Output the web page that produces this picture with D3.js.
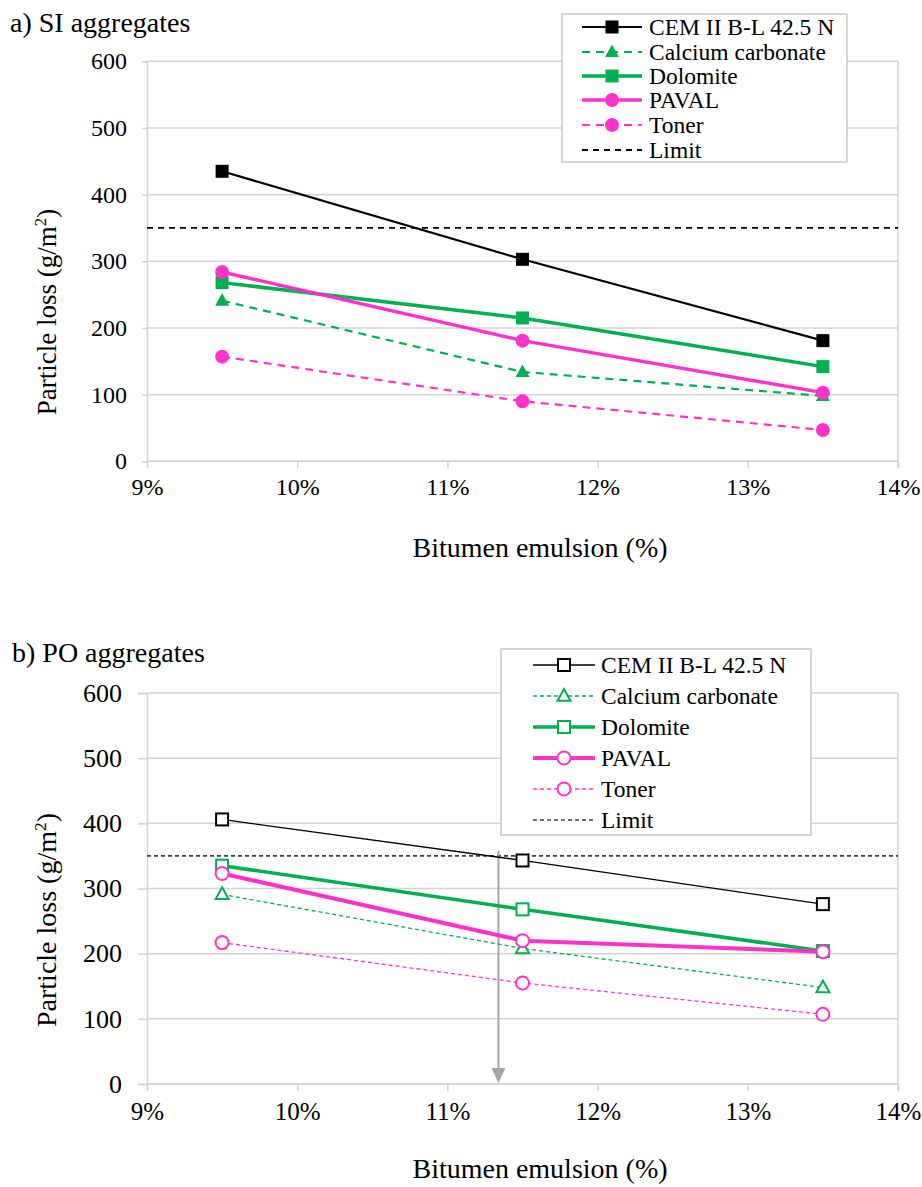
<!DOCTYPE html>
<html><head><meta charset="utf-8">
<script src="https://cdn.jsdelivr.net/npm/d3@7"></script>
<style>
html,body{margin:0;padding:0;background:#fff;}
svg text{font-family:"Liberation Serif","Times New Roman",serif;fill:#000;}
</style></head>
<body>
<svg id="chart" width="922" height="1187"></svg>
<script>
// ---- data ----
const xValues = [9.5, 11.5, 13.5];
const xTicks = [9, 10, 11, 12, 13, 14];
const yTicks = [0, 100, 200, 300, 400, 500, 600];
const seriesNames = ["CEM II B-L 42.5 N", "Calcium carbonate", "Dolomite", "PAVAL", "Toner"];
const limitValue = 350;
// a) SI aggregates
const siCEM = [435, 303, 181];
const siCalcium = [241, 134, 98];
const siDolomite = [268, 215, 142];
const siPAVAL = [284, 181, 103];
const siToner = [157, 90, 47];
// b) PO aggregates
const poCEM = [406, 343, 276];
const poCalcium = [291, 208, 148];
const poDolomite = [335, 268, 204];
const poPAVAL = [323, 220, 203];
const poToner = [217, 155, 107];
// arrow in b (x position in %, from value to value)
const arrowX = 11.34;
const arrowFrom = 358;
const arrowTo = 0;

const GREEN = "#00b050", PINK = "#ff33cc", GRID = "#d3d3d3";
const FONT = '"Liberation Serif","Times New Roman",serif';
const svg = d3.select("#chart");
const x = d3.scaleLinear().domain([9, 14]).range([147, 898]);

function fmtPct(d){ return d + "%"; }

function drawPanel(p) {
  const y = d3.scaleLinear().domain([0, 600]).range([p.y0, p.y1]);
  const g = svg.append("g");
  // grid lines
  g.selectAll(".grid").data(yTicks).join("line")
    .attr("x1", x(9)).attr("x2", x(14))
    .attr("y1", d => y(d)).attr("y2", d => y(d))
    .attr("stroke", GRID).attr("stroke-width", 1.5);
  // right border
  g.append("line").attr("x1", x(14)).attr("x2", x(14)).attr("y1", y(600)).attr("y2", y(0) + 7)
    .attr("stroke", GRID).attr("stroke-width", 1.5);
  // y axis
  const yAxis = d3.axisLeft(y).tickValues(yTicks).tickSize(p.yTickLen).tickPadding(p.yPad).tickFormat(d => d);
  const ya = g.append("g").attr("transform", `translate(${x(9)},0)`).call(yAxis);
  ya.select(".domain").attr("stroke", GRID).attr("stroke-width", 1.5);
  ya.selectAll(".tick line").attr("stroke", GRID).attr("stroke-width", 1.5);
  ya.selectAll(".tick text").style("font-size", p.yFont + "px").attr("fill", "#000")
    .style("font-family", FONT);
  // x axis
  const xAxis = d3.axisBottom(x).tickValues(xTicks).tickSize(7).tickPadding(p.xPad).tickFormat(fmtPct);
  const xa = g.append("g").attr("transform", `translate(0,${y(0)})`).call(xAxis);
  xa.select(".domain").attr("stroke", GRID).attr("stroke-width", 1.5).attr("d", `M${x(9)},0H${x(14)}`);
  xa.selectAll(".tick line").attr("stroke", GRID).attr("stroke-width", 1.5);
  xa.selectAll(".tick text").style("font-size", p.xFont + "px").attr("fill", "#000")
    .style("font-family", FONT);

  // limit line
  g.append("line").attr("x1", x(9)).attr("x2", x(14))
    .attr("y1", y(limitValue)).attr("y2", y(limitValue))
    .attr("stroke", p.limit.color).attr("stroke-width", p.limit.w).attr("stroke-dasharray", p.limit.dash);

  // arrow
  if (p.arrow) {
    g.append("line").attr("x1", x(arrowX)).attr("x2", x(arrowX))
      .attr("y1", y(arrowFrom)).attr("y2", y(arrowTo) - 12)
      .attr("stroke", "#a6a6a6").attr("stroke-width", 2);
    const ax = x(arrowX), ay = y(arrowTo) - 1;
    g.append("path").attr("d", `M${ax-7},${ay-15}L${ax+7},${ay-15}L${ax},${ay}Z`).attr("fill", "#a6a6a6");
  }

  const line = d3.line().x((d, i) => x(xValues[i])).y(d => y(d));
  p.series.forEach(s => {
    g.append("path").datum(s.values).attr("d", line).attr("fill", "none")
      .attr("stroke", s.color).attr("stroke-width", s.w).attr("stroke-dasharray", s.dash || null)
      .attr("stroke-linejoin", "round");
  });
  p.series.forEach(s => {
    s.values.forEach((v, i) => drawMarker(g, s, x(xValues[i]), y(v), p.open));
  });

  // title
  svg.append("text").attr("x", p.titleX).attr("y", p.titleY).style("font-size", "28px").text(p.title);
  // x title
  svg.append("text").attr("x", 540).attr("y", p.xTitleY).attr("text-anchor", "middle")
    .style("font-size", "28px").text("Bitumen emulsion (%)");
  // y title
  const yt = svg.append("text").attr("transform", `translate(${p.yTitleX},${p.yTitleY}) rotate(-90)`)
    .attr("text-anchor", "middle").style("font-size", p.yTitleFont + "px");
  yt.append("tspan").text("Particle loss (g/m");
  yt.append("tspan").attr("dy", -10).style("font-size", (p.yTitleFont * 0.62) + "px").text("2");
  yt.append("tspan").attr("dy", 10).text(")");

  // legend
  const L = p.legend;
  const lg = svg.append("g");
  lg.append("rect").attr("x", L.x).attr("y", L.y).attr("width", L.w).attr("height", L.h)
    .attr("fill", "#fff").attr("stroke", "#c8c8c8").attr("stroke-width", 1.5);
  const entries = p.series.map(s => s).concat([{name: "Limit", color: p.limit.color, w: p.limit.legW || p.limit.w, dash: p.limit.dash, marker: null}]);
  entries.forEach((s, i) => {
    const cy = L.rows[i];
    lg.append("line").attr("x1", L.lx1).attr("x2", L.lx2).attr("y1", cy).attr("y2", cy)
      .attr("stroke", s.color).attr("stroke-width", s.w).attr("stroke-dasharray", s.dash || null);
    if (s.marker) drawMarker(lg, s, (L.lx1 + L.lx2) / 2, cy, p.open);
    lg.append("text").attr("x", L.tx).attr("y", cy).attr("dy", "0.35em")
      .style("font-size", L.font + "px").text(s.name);
  });
}

function drawMarker(g, s, cx, cy, open) {
  const fill = open ? "#fff" : s.color;
  const sw = open ? 2 : 0;
  const sz = s.ms;
  if (s.marker === "square") {
    g.append("rect").attr("x", cx - sz / 2).attr("y", cy - sz / 2).attr("width", sz).attr("height", sz)
      .attr("fill", fill).attr("stroke", s.color).attr("stroke-width", sw);
  } else if (s.marker === "circle") {
    g.append("circle").attr("cx", cx).attr("cy", cy).attr("r", sz / 2)
      .attr("fill", fill).attr("stroke", s.color).attr("stroke-width", sw);
  } else if (s.marker === "triangle") {
    const h = sz * 0.9;
    g.append("path").attr("d", `M${cx},${cy - h * 0.6}L${cx + sz / 2},${cy + h * 0.4}L${cx - sz / 2},${cy + h * 0.4}Z`)
      .attr("fill", fill).attr("stroke", s.color).attr("stroke-width", sw);
  }
}

drawPanel({
  y0: 461.3, y1: 61.3, yTickLen: 5, yPad: 15, yFont: 24, xPad: 10, xFont: 24, open: false,
  title: "a) SI aggregates", titleX: 10, titleY: 32, xTitleY: 557,
  yTitleX: 56, yTitleY: 312, yTitleFont: 27,
  limit: {color: "#000", w: 1.8, dash: "6,5"},
  arrow: false,
  series: [
    {name: seriesNames[0], values: siCEM, color: "#000", w: 2.2, marker: "square", ms: 13},
    {name: seriesNames[1], values: siCalcium, color: GREEN, w: 2.2, dash: "8,6", marker: "triangle", ms: 14},
    {name: seriesNames[2], values: siDolomite, color: GREEN, w: 3.5, marker: "square", ms: 13},
    {name: seriesNames[3], values: siPAVAL, color: PINK, w: 3.5, marker: "circle", ms: 14},
    {name: seriesNames[4], values: siToner, color: PINK, w: 2.2, dash: "8,6", marker: "circle", ms: 14}
  ],
  legend: {x: 562, y: 14, w: 285, h: 148, rows: [27, 52, 76, 100, 125, 150], lx1: 582, lx2: 642, tx: 649, font: 23.5}
});

drawPanel({
  y0: 1084, y1: 693, yTickLen: 9, yPad: 16, yFont: 26, xPad: 11, xFont: 25, open: true,
  title: "b) PO aggregates", titleX: 12, titleY: 662, xTitleY: 1178,
  yTitleX: 56, yTitleY: 920, yTitleFont: 28,
  limit: {color: "#404040", w: 1.6, dash: "4,3", legW: 1.4},
  arrow: true,
  series: [
    {name: seriesNames[0], values: poCEM, color: "#000", w: 1.3, marker: "square", ms: 12},
    {name: seriesNames[1], values: poCalcium, color: GREEN, w: 1.3, dash: "4,3", marker: "triangle", ms: 13},
    {name: seriesNames[2], values: poDolomite, color: GREEN, w: 3.5, marker: "square", ms: 12},
    {name: seriesNames[3], values: poPAVAL, color: PINK, w: 4, marker: "circle", ms: 13},
    {name: seriesNames[4], values: poToner, color: PINK, w: 1.3, dash: "4,3", marker: "circle", ms: 13}
  ],
  legend: {x: 501, y: 649, w: 310, h: 186, rows: [665, 696, 727, 758, 789, 820], lx1: 533, lx2: 595, tx: 601, font: 23.5}
});
</script>
</body></html>
